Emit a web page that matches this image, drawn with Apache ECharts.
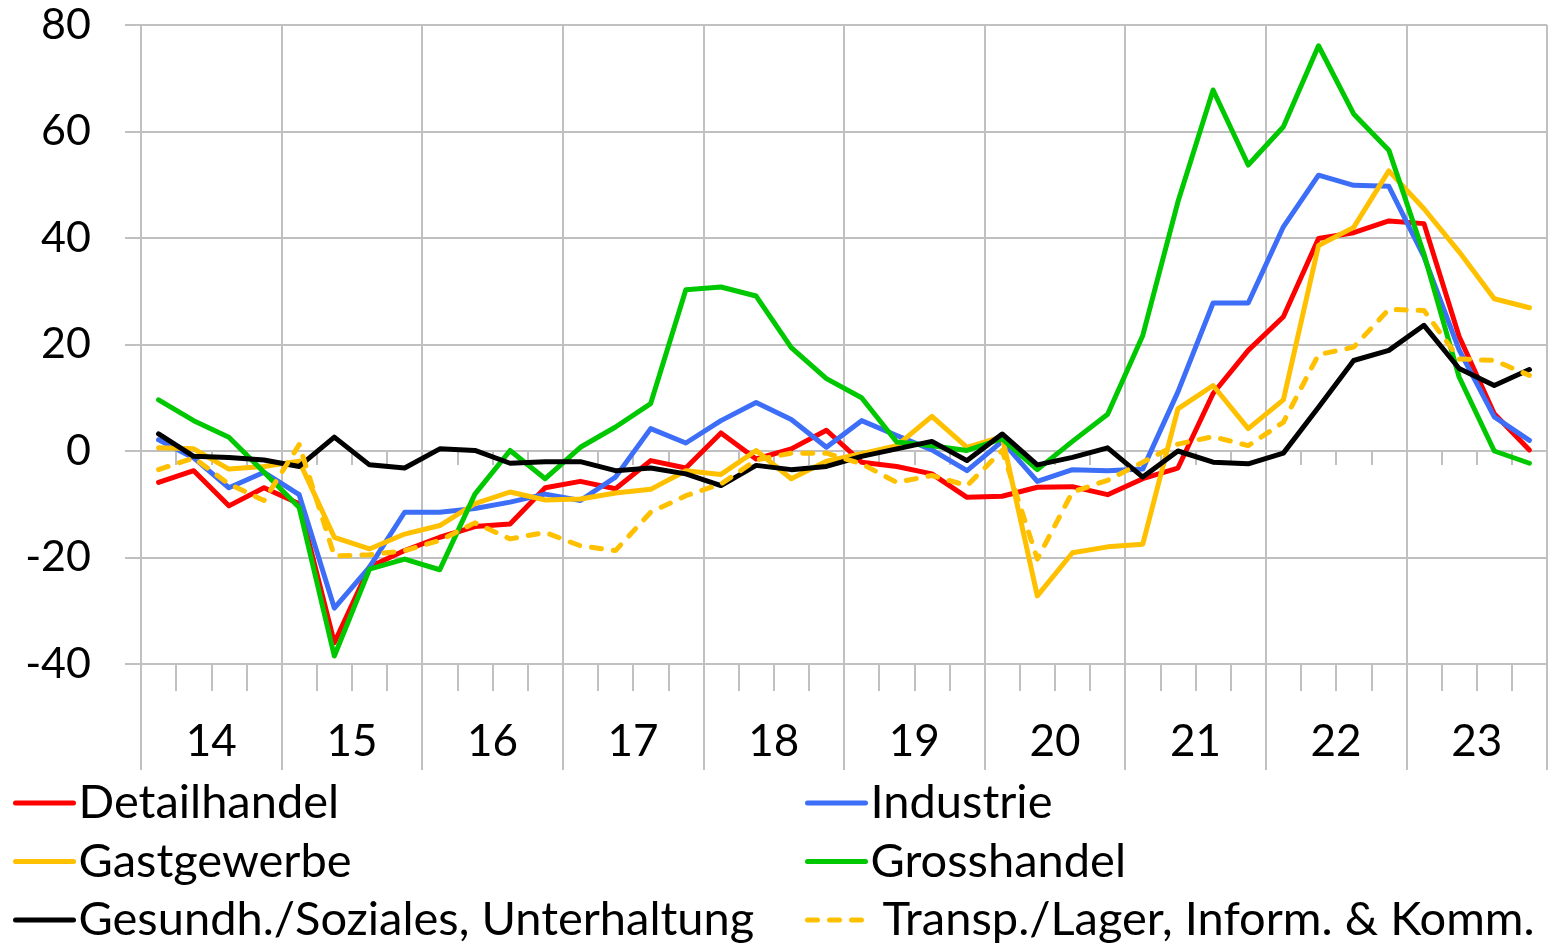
<!DOCTYPE html>
<html>
<head>
<meta charset="utf-8">
<script src="https://cdn.jsdelivr.net/npm/echarts@6.0.0/dist/echarts.min.js"></script>
<style>
  html, body { margin: 0; padding: 0; background: #fff; }
  #chart { width: 1555px; height: 948px; }
</style>
</head>
<body>
<div id="chart"></div>
<script>
// Quartale 2014 Q1 .. 2023 Q4
var quarters = [];
var years = ["14", "15", "16", "17", "18", "19", "20", "21", "22", "23"];
years.forEach(function (y) {
  for (var q = 1; q <= 4; q++) quarters.push(y + "Q" + q);
});

var yTicks = { min: -40, max: 80, step: 20 };

var detailhandel = [-5.9, -3.7, -10.3, -6.9, -9.9, -36, -21.8, -18.7, -16.2, -14.2,
  -13.7, -6.9, -5.7, -7.1, -1.8, -3.2, 3.4, -1.5, 0.4, 3.9,
  -2.1, -2.9, -4.3, -8.7, -8.5, -6.8, -6.7, -8.2, -5.2, -3.2,
  10.8, 18.9, 25.2, 39.9, 41.0, 43.2, 42.7, 21.5, 7.0, 0.2];
var industrie = [2.1, -1.3, -6.9, -4.0, -8.2, -29.5, -21.8, -11.5, -11.5, -10.8,
  -9.6, -8.1, -9.3, -4.9, 4.2, 1.5, 5.7, 9.1, 5.9, 0.7,
  5.7, 2.9, 0.2, -3.7, 1.8, -5.7, -3.5, -3.7, -3.4, 11.1,
  27.8, 27.8, 42.1, 51.8, 49.9, 49.7, 36.5, 19.0, 6.4, 2.0];
var gastgewerbe = [0.6, 0.4, -3.4, -2.9, -1.9, -16.2, -18.4, -15.6, -14.0, -9.9,
  -7.7, -9.2, -9.0, -7.9, -7.2, -3.7, -4.4, 0.1, -5.2, -1.9,
  -0.5, 1.0, 6.5, 0.7, 2.7, -27.2, -19.1, -18.0, -17.5, 7.9,
  12.3, 4.2, 9.6, 38.6, 42.0, 52.6, 45.5, 37.4, 28.6, 26.9];
var grosshandel = [9.6, 5.7, 2.6, -4.0, -10.6, -38.5, -22.2, -20.3, -22.3, -8.1,
  0.1, -5.2, 0.7, 4.5, 8.9, 30.3, 30.8, 29.1, 19.4, 13.6,
  10.0, 1.7, 1.0, 0.1, 2.3, -3.5, 1.8, 6.9, 21.7, 46.8,
  67.8, 53.7, 60.9, 76.1, 63.3, 56.5, 37.0, 13.9, 0.0, -2.3];
var gesundheit = [3.2, -1.0, -1.2, -1.7, -2.9, 2.6, -2.6, -3.2, 0.4, 0.1,
  -2.3, -2.0, -2.0, -3.7, -3.2, -4.3, -6.5, -2.7, -3.5, -2.9,
  -1.0, 0.4, 1.8, -1.8, 3.2, -2.6, -1.2, 0.6, -4.9, 0.0,
  -2.1, -2.4, -0.4, 8.2, 17.0, 18.9, 23.6, 15.5, 12.3, 15.3];
var transport = [-3.5, -1.3, -6.2, -9.3, 1.2, -19.7, -19.5, -18.7, -16.8, -13.5,
  -16.5, -15.3, -17.8, -18.7, -11.5, -8.4, -6.2, -1.7, -0.4, -0.4,
  -2.4, -5.9, -4.6, -6.5, 0.1, -20.3, -7.7, -5.5, -2.1, 1.3,
  2.7, 1.0, 5.4, 18.1, 19.5, 26.6, 26.4, 17.3, 17.0, 14.2];

var FONT = "Lato";
var GRID_COLOR = "#c0c0c0";
var LINE_W = 5;

function line(name, data, color, dashed) {
  return {
    name: name,
    type: "line",
    xAxisIndex: 0,
    data: data,
    symbol: "none",
    showSymbol: false,
    animation: false,
    lineStyle: {
      color: color,
      width: LINE_W,
      type: dashed ? [10, 12] : "solid",
      cap: "round",
      join: "round"
    },
    itemStyle: { color: color },
    emphasis: { disabled: true }
  };
}

var legendBase = {
  orient: "vertical",
  top: 779,
  padding: 0,
  itemWidth: 58,
  itemHeight: 14,
  itemGap: 10.5,
  selectedMode: false,
  itemStyle: { opacity: 0 }, // nur Linie, kein Punkt
  lineStyle: { width: 5 },
  textStyle: { fontFamily: FONT, fontSize: 47, lineHeight: 48, color: "#000" }
};

var tickStyle = { color: GRID_COLOR, width: 2 };

var chart = echarts.init(document.getElementById("chart"));
chart.setOption({
  animation: false,
  backgroundColor: "#fff",
  grid: { left: 141, right: 8, top: 25, bottom: 284, containLabel: false },
  legend: [
    Object.assign({}, legendBase, {
      left: 13,
      data: ["Detailhandel", "Gastgewerbe", "Gesundh./Soziales, Unterhaltung"]
    }),
    Object.assign({}, legendBase, {
      left: 805,
      data: ["Industrie", "Grosshandel", " Transp./Lager, Inform. & Komm."]
    })
  ],
  xAxis: [
    {
      // Quartale auf der Nulllinie: kurze Ticks
      type: "category",
      data: quarters,
      position: "bottom",
      boundaryGap: true,
      axisLine: { show: true, onZero: true, lineStyle: tickStyle },
      axisTick: { show: true, interval: 0, length: 14, lineStyle: tickStyle },
      axisLabel: { show: false },
      splitLine: { show: false }
    },
    {
      // Quartale unten bei -40
      type: "category",
      data: quarters,
      position: "bottom",
      boundaryGap: true,
      axisLine: { show: true, onZero: false, lineStyle: tickStyle },
      axisTick: { show: true, interval: 0, length: 27, lineStyle: tickStyle },
      axisLabel: { show: false },
      splitLine: { show: false }
    },
    {
      // Jahre: Beschriftung, lange Ticks und Gitterlinien
      type: "category",
      data: years,
      position: "bottom",
      boundaryGap: true,
      axisLine: { show: false, onZero: false },
      axisTick: { show: true, interval: 0, length: 106, lineStyle: tickStyle },
      axisLabel: { interval: 0, margin: 56, fontFamily: FONT, fontSize: 44, lineHeight: 44, color: "#000" },
      splitLine: { show: true, interval: 0, lineStyle: tickStyle }
    }
  ],
  yAxis: {
    type: "value",
    min: yTicks.min,
    max: yTicks.max,
    interval: yTicks.step,
    axisLine: { show: false },
    axisTick: { show: true, length: 16, lineStyle: tickStyle },
    axisLabel: { margin: 50, fontFamily: FONT, fontSize: 43, color: "#000" },
    splitLine: { show: true, lineStyle: tickStyle }
  },
  series: [
    line("Detailhandel", detailhandel, "#ff0000"),
    line("Industrie", industrie, "#3d6ef7"),
    line("Gastgewerbe", gastgewerbe, "#ffc000"),
    line("Grosshandel", grosshandel, "#00c800"),
    line("Gesundh./Soziales, Unterhaltung", gesundheit, "#000000"),
    line(" Transp./Lager, Inform. & Komm.", transport, "#ffc000", true)
  ]
});
</script>
</body>
</html>
